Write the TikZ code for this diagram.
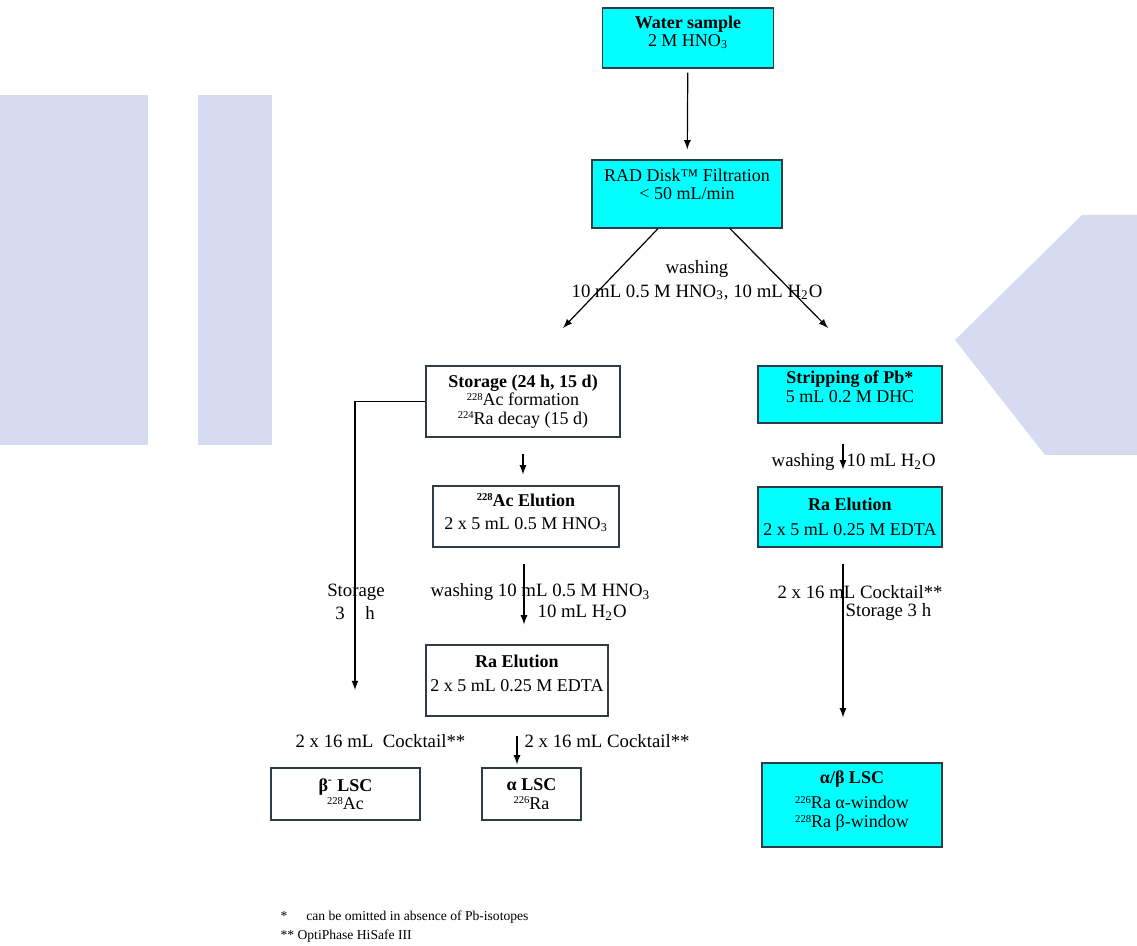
\documentclass[tikz,border=0pt]{standalone}
\usepackage{fontspec}
\setmainfont{Liberation Serif}
\usetikzlibrary{shapes,arrows,positioning,fit,backgrounds}
\definecolor{celeste}{RGB}{0, 255, 255}
\definecolor{marco}{RGB}{45, 60, 70}
\definecolor{marca}{RGB}{214, 219, 242}
\newcommand{\iso}[2]{\raisebox{2.6pt}{\fontsize{5.3}{6}\selectfont #1}#2}
\newcommand{\bajo}[1]{\rule[-#1]{0pt}{#1}}

\begin{document}
\begin{tikzpicture}[x=0.5pt, y=-0.5pt, >=latex, line width=0.6pt,
            caja/.style={rectangle, draw=marco, line width=0.6pt, align=center, inner sep=2pt, font=\fontsize{9}{9.2}\selectfont},
            cajac/.style={caja, fill=celeste},
            etiq/.style={inner sep=0pt, font=\fontsize{9.4}{12}\selectfont},
            nota/.style={inner sep=0pt, font=\fontsize{6.8}{9}\selectfont}]
            \useasboundingbox (0,0) rectangle (1137,946);
            
            % Marca de agua
            \fill[marca] (0,95) rectangle (148,445);
            \fill[marca] (198,95) rectangle (272,445);
            \fill[marca] (1082,215) -- (1137,215) -- (1137,455) -- (1045,455) -- (955,340) -- cycle;
            
            % Cajas
            \node[cajac, minimum width=85.5pt, minimum height=30pt] (agua) at (688,38) {\textbf{Water sample}\\2 M HNO\textsubscript{3}\bajo{6.5pt}};
            \node[cajac, minimum width=95pt, minimum height=34pt] (rad) at (687,194) {RAD Disk™ Filtration\\< 50 mL/min\bajo{10pt}};
            \node[caja, minimum width=97pt, minimum height=35.5pt] (almac) at (523,401.5) {\textbf{Storage (24 h, 15 d)}\\\iso{228}{Ac} formation\\\iso{224}{Ra} decay (15 d)};
            \node[cajac, minimum width=92pt, minimum height=28.5pt] (strip) at (850,394.5) {\textbf{Stripping of Pb*}\\5 mL 0.2 M DHC\bajo{8pt}};
            \node[caja, minimum width=93pt, minimum height=30.5pt] (acel) at (526,516.5) {\textbf{\iso{228}{Ac} Elution}\\[2.5pt]2 x 5 mL 0.5 M HNO\textsubscript{3}\bajo{5pt}};
            \node[cajac, minimum width=92pt, minimum height=30pt] (raD) at (850,517) {\textbf{Ra Elution}\\[3pt]2 x 5 mL 0.25 M EDTA};
            \node[caja, minimum width=91pt, minimum height=35.5pt] (raI) at (517,680.5) {\textbf{Ra Elution}\\[3pt]2 x 5 mL 0.25 M EDTA\bajo{7pt}};
            \node[caja, minimum width=74.5pt, minimum height=26pt] (beta) at (345.5,794) {\textbf{β\textsuperscript{-} LSC}\\\iso{228}{Ac}};
            \node[caja, minimum width=49.5pt, minimum height=26pt] (alfa) at (531.5,794) {\textbf{α LSC}\\\iso{226}{Ra}};
            \node[cajac, minimum width=90pt, minimum height=42pt] (ablsc) at (852,805) {\textbf{α/β LSC}\\[3.5pt]\iso{226}{Ra} α-window\\\iso{228}{Ra} β-window\bajo{6pt}};
            
            % Etiquetas
            \node[etiq, align=center] (lavado) at (697,280) {washing\\10 mL 0.5 M HNO\textsubscript{3}, 10 mL H\textsubscript{2}O};
            \node[etiq, anchor=east] (lavD) at (835,462) {washing};
            \node[etiq, anchor=west] (aguaD) at (846,462) {10 mL H\textsubscript{2}O};
            \node[etiq, anchor=west] (cockD) at (777,592) {2 x 16 mL Cocktail**};
            \node[etiq, anchor=west] (almD) at (845,612) {Storage 3 h};
            \node[etiq] (almI) at (356,592) {Storage};
            \node[etiq] (tres) at (340,613) {3};
            \node[etiq] (hora) at (370,613) {h};
            \node[etiq, anchor=west] (lavC) at (430,592) {washing 10 mL 0.5 M HNO\textsubscript{3}};
            \node[etiq, anchor=west] (aguaC) at (537,613) {10 mL H\textsubscript{2}O};
            \node[etiq, anchor=west] (cockI) at (295,741) {2 x 16 mL\ \ Cocktail**};
            \node[etiq, anchor=west] (cockC) at (524,741) {2 x 16 mL Cocktail**};
            \node[nota, anchor=west] (nota1) at (280,917) {*\hspace{9.5pt}can be omitted in absence of Pb-isotopes};
            \node[nota, anchor=west] (nota2) at (280,936) {** OptiPhase HiSafe III};
            
            % Flechas
            \coordinate (finI) at (563,328);
            \coordinate (finD) at (828,328);
            \coordinate (finAlm) at (355,690);
            \draw[->, shorten <=2pt, shorten >=5pt] (agua) -- (rad);
            \draw[->] ([xshift=-14.5pt]rad.south) -- (finI);
            \draw[->] ([xshift=21.5pt]rad.south) -- (finD);
            \draw[->] (almac.west) -| (finAlm);
            \draw[->, shorten <=8pt, shorten >=5.5pt] (almac.south) -- (almac.south |- acel.north);
            \draw[->, shorten <=8pt, shorten >=10pt] ([xshift=-1pt]acel.south) -- ([xshift=-1pt]acel.south |- raI.north);
            \draw[->, shorten <=9.5pt, shorten >=1.5pt] (raI.south) -- (raI.south |- alfa.north);
            \draw[->, shorten <=10pt, shorten >=8.5pt] ([xshift=-3.5pt]strip.south) -- ([xshift=-3.5pt]raD.north);
            \draw[->, shorten <=8pt, shorten >=22.5pt] ([xshift=-3.5pt]raD.south) -- ([xshift=-3.5pt]raD.south |- ablsc.north);
            
\end{tikzpicture}
\end{document}
